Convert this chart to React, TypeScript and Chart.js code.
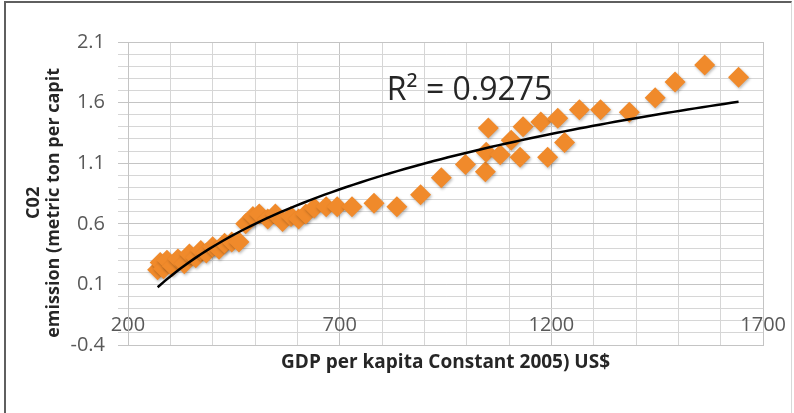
import { useEffect, useRef } from 'react';
import { Chart, registerables } from 'chart.js';

Chart.register(...registerables);

// GDP per capita (constant 2005 US$) and CO2 emission (metric tons per capita)
const gdpPerCapita = [
  270, 276, 284, 292, 305, 318, 333, 345, 360, 372, 385, 400, 415, 428, 445, 462,
  478, 495, 510, 530, 548, 565, 585, 603, 620, 640, 668, 694, 729, 781, 835, 891,
  940, 997, 1044, 1046, 1051, 1079, 1105, 1126, 1133, 1175, 1191, 1215, 1231, 1266,
  1316, 1384, 1445, 1492, 1562, 1642,
];
const co2PerCapita = [
  0.22, 0.28, 0.23, 0.30, 0.25, 0.31, 0.27, 0.35, 0.32, 0.38, 0.36, 0.41, 0.39, 0.44, 0.45, 0.45,
  0.60, 0.66, 0.68, 0.64, 0.68, 0.62, 0.66, 0.64, 0.68, 0.73, 0.74, 0.74, 0.74, 0.77, 0.74, 0.84,
  0.98, 1.09, 1.03, 1.19, 1.39, 1.17, 1.29, 1.15, 1.40, 1.44, 1.15, 1.47, 1.27, 1.54,
  1.54, 1.52, 1.64, 1.77, 1.91, 1.81,
];

const xTickLabels = [200, 700, 1200, 1700];
const yTickLabels = [-0.4, 0.1, 0.6, 1.1, 1.6, 2.1];
const xAxisTitle = 'GDP per kapita Constant 2005) US$';
const yAxisTitle = ['C02    ', 'emission (metric ton per capit    '];
const r2Text = 'R\u00B2 = 0.9275';
const r2Anchor = { x: 811, y: 1.62 };

const FONT = "'Open Sans', 'DejaVu Sans', sans-serif";
const ORANGE = '#F08A2B';

// least-squares fit of y = a*ln(x) + b
function logFit(xs: number[], ys: number[]) {
  const n = xs.length;
  const lx = xs.map((v) => Math.log(v));
  const mx = lx.reduce((s, v) => s + v, 0) / n;
  const my = ys.reduce((s, v) => s + v, 0) / n;
  let sxy = 0;
  let sxx = 0;
  for (let i = 0; i < n; i++) {
    sxy += (lx[i] - mx) * (ys[i] - my);
    sxx += (lx[i] - mx) * (lx[i] - mx);
  }
  const a = sxy / sxx;
  return { a, b: my - a * mx };
}

function trendPoints() {
  const { a, b } = logFit(gdpPerCapita, co2PerCapita);
  const lo = Math.min(...gdpPerCapita);
  const hi = Math.max(...gdpPerCapita);
  const pts: { x: number; y: number }[] = [];
  const steps = 80;
  for (let i = 0; i <= steps; i++) {
    const x = lo + ((hi - lo) * i) / steps;
    pts.push({ x, y: a * Math.log(x) + b });
  }
  return pts;
}

const isYLabel = (v: number) => yTickLabels.some((t) => Math.abs(t - v) < 1e-6);
const isXLabel = (v: number) => xTickLabels.some((t) => Math.abs(t - v) < 1e-6);

const markerShadow = {
  id: 'markerShadow',
  beforeDatasetDraw(chart: any, args: any) {
    if (args.index !== 1) return;
    const ctx = chart.ctx;
    ctx.save();
    ctx.shadowColor = 'rgba(0,0,0,0.28)';
    ctx.shadowBlur = 3;
    ctx.shadowOffsetX = 1;
    ctx.shadowOffsetY = 1.5;
  },
  afterDatasetDraw(chart: any, args: any) {
    if (args.index !== 1) return;
    chart.ctx.restore();
  },
};

const r2Label = {
  id: 'r2Label',
  afterDatasetsDraw(chart: any) {
    const { ctx, scales } = chart;
    const px = scales.x.getPixelForValue(r2Anchor.x);
    const py = scales.y.getPixelForValue(r2Anchor.y);
    ctx.save();
    ctx.font = `32px ${FONT}`;
    ctx.fillStyle = '#262626';
    ctx.textAlign = 'left';
    ctx.textBaseline = 'alphabetic';
    ctx.fillText(r2Text, px, py);
    ctx.restore();
  },
};

export default function App() {
  const canvasRef = useRef<HTMLCanvasElement | null>(null);

  useEffect(() => {
    if (!canvasRef.current) return;
    const points = gdpPerCapita.map((x, i) => ({ x, y: co2PerCapita[i] }));
    const gridColor = (major: boolean) => (major ? '#c4c4c4' : '#d6d6d6');

    const chart = new Chart(canvasRef.current, {
      type: 'scatter',
      data: {
        datasets: [
          {
            type: 'line',
            data: trendPoints(),
            borderColor: '#000000',
            borderWidth: 2.5,
            pointRadius: 0,
            fill: false,
            tension: 0,
            order: 0,
          } as any,
          {
            data: points,
            pointStyle: 'rectRot',
            pointRadius: 10.5,
            backgroundColor: ORANGE,
            borderWidth: 0,
            order: 1,
          },
        ],
      },
      options: {
        animation: false,
        responsive: false,
        devicePixelRatio: 1,
        layout: { padding: { top: 42, right: 28, left: 0, bottom: 0 } },
        plugins: {
          legend: { display: false },
          tooltip: { enabled: false },
        },
        scales: {
          x: {
            type: 'linear',
            min: 200,
            max: 1700,
            afterFit: (scale: any) => {
              scale.height = 68;
            },
            ticks: {
              stepSize: 100,
              autoSkip: false,
              maxRotation: 0,
              minRotation: 0,
              mirror: true,
              padding: 8,
              color: '#595959',
              font: { family: FONT, size: 20 },
              callback: (value: any) => (isXLabel(Number(value)) ? String(Math.round(Number(value))) : ''),
            },
            grid: {
              drawTicks: false,
              color: (ctx: any) => gridColor(isXLabel(ctx.tick?.value)),
              lineWidth: 1,
            },
            border: { color: '#c4c4c4' },
            title: {
              display: true,
              text: xAxisTitle,
              color: '#262626',
              font: { family: FONT, size: 19, weight: 'bold', lineHeight: 1.2 },
              padding: { top: 0, bottom: 38.6 },
            },
          },
          y: {
            type: 'linear',
            min: -0.4,
            max: 2.1,
            afterFit: (scale: any) => {
              scale.width = 128;
            },
            ticks: {
              stepSize: 0.1,
              autoSkip: false,
              padding: 13,
              color: '#595959',
              font: { family: FONT, size: 20 },
              callback: (value: any) => {
                const v = Math.round(Number(value) * 10) / 10;
                return isYLabel(v) ? v.toFixed(1) : '';
              },
            },
            grid: {
              drawTicks: true,
              tickLength: 10,
              color: (ctx: any) => gridColor(isYLabel(Math.round((ctx.tick?.value ?? 0) * 10) / 10)),
              tickColor: (ctx: any) => gridColor(isYLabel(Math.round((ctx.tick?.value ?? 0) * 10) / 10)),
              lineWidth: 1,
            },
            border: { color: '#c4c4c4' },
            title: {
              display: true,
              text: yAxisTitle,
              color: '#262626',
              font: { family: FONT, size: 18, weight: 'bold', lineHeight: 20 / 18 },
              padding: { top: 24, bottom: 0 },
            },
          },
        },
      },
      plugins: [markerShadow, r2Label],
    });

    return () => chart.destroy();
  }, []);

  return (
    <div
      style={{
        position: 'absolute',
        left: 0,
        top: 0,
        width: 794,
        height: 413,
        overflow: 'hidden',
        background: '#ffffff',
      }}
    >
      <canvas ref={canvasRef} width={794} height={413} style={{ display: 'block', width: 794, height: 413 }} />
      <div
        style={{
          position: 'absolute',
          left: 4,
          top: 1,
          width: 788,
          height: 440,
          boxSizing: 'border-box',
          borderLeft: '2px solid #5f5f5f',
          borderTop: '2px solid #5f5f5f',
          borderRight: '1px solid #d8d8d8',
          pointerEvents: 'none',
        }}
      />
    </div>
  );
}
